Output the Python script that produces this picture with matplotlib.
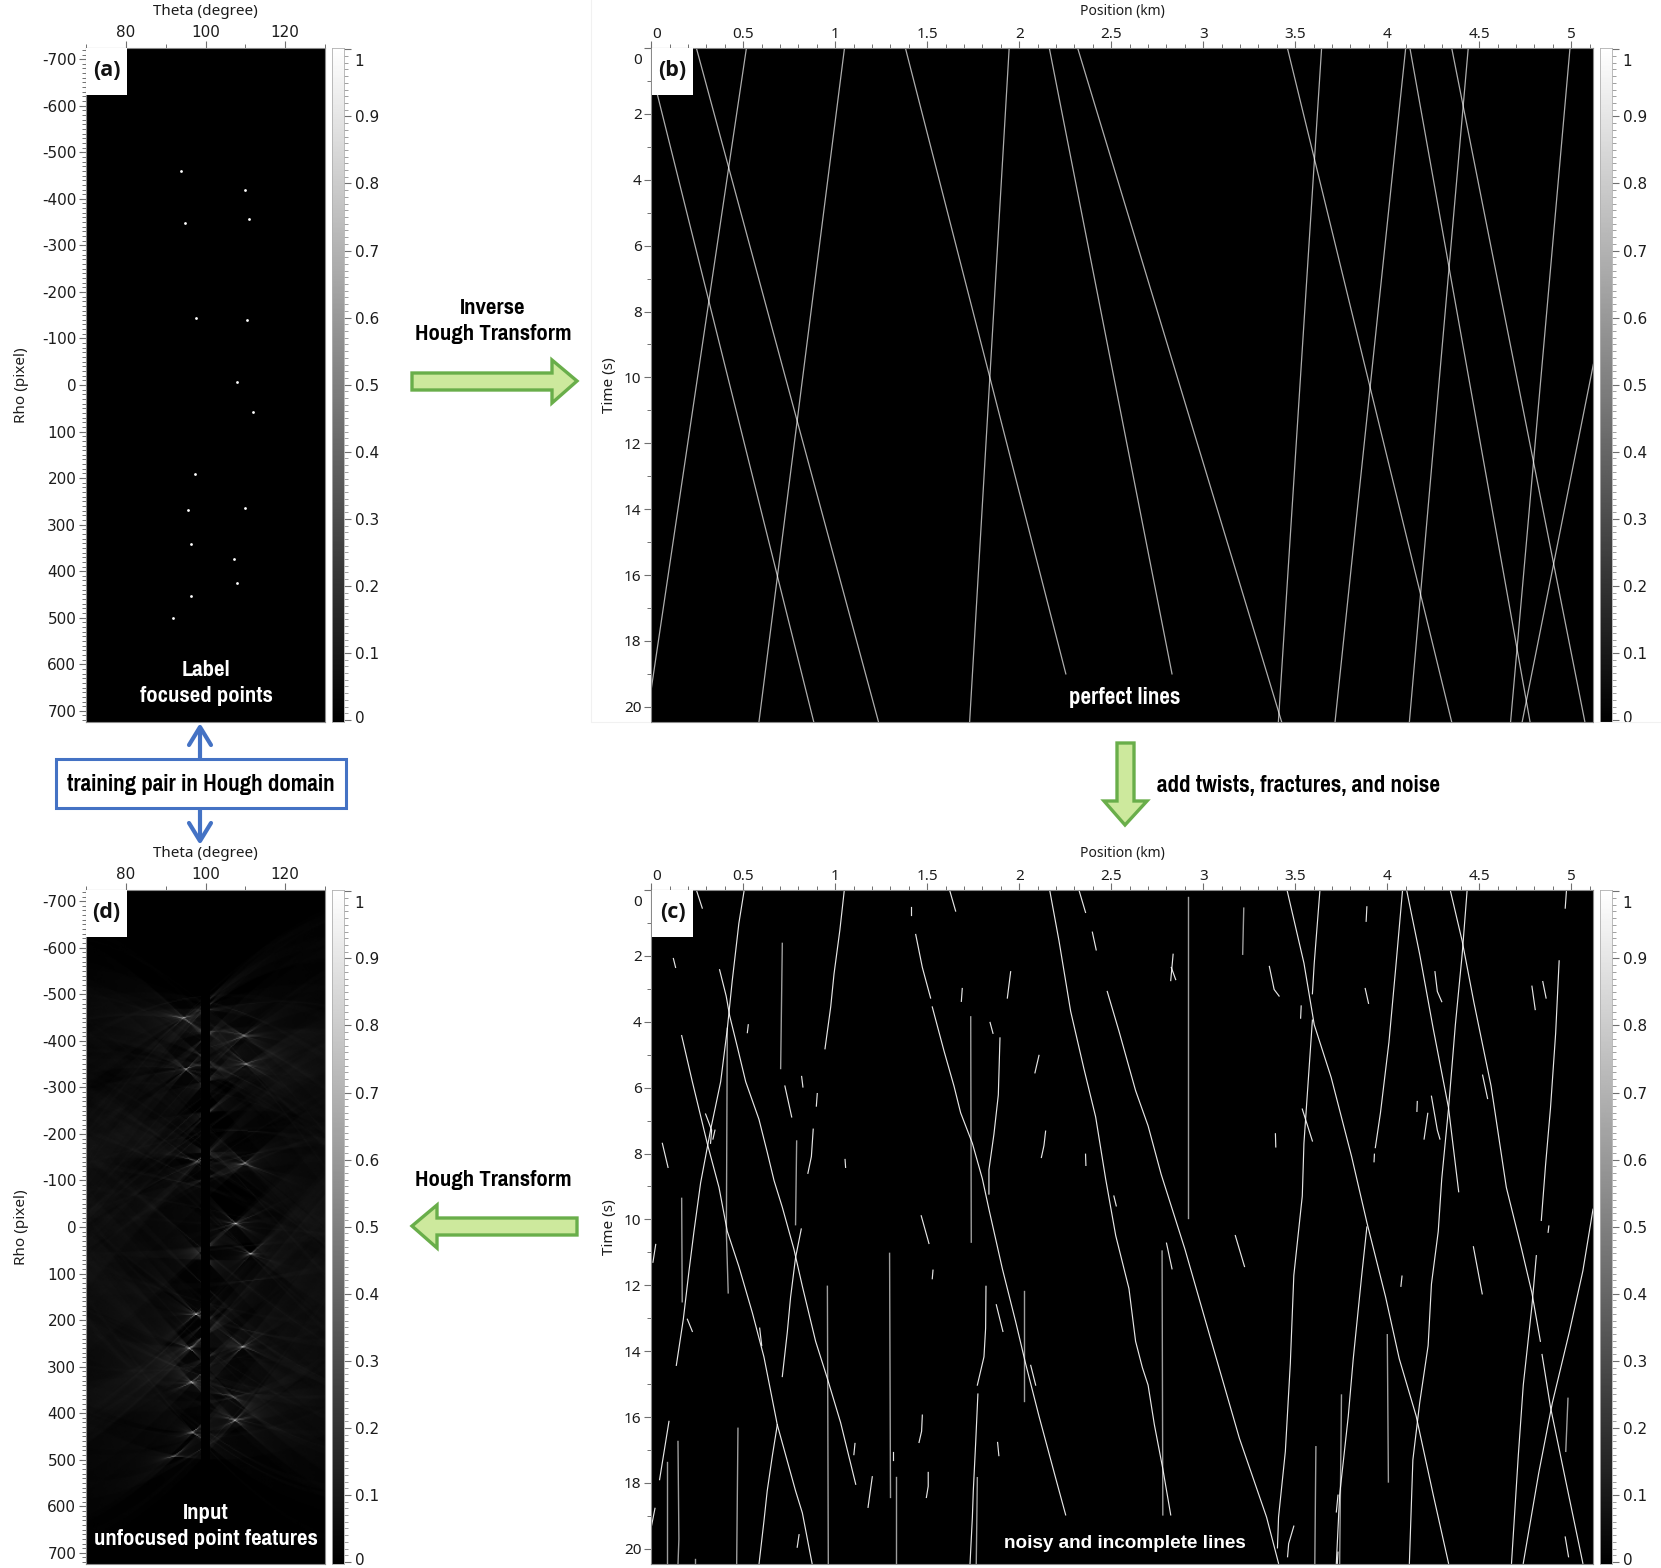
import numpy as np
import matplotlib
matplotlib.use("Agg")
import matplotlib.pyplot as plt
import matplotlib.font_manager as fm
from matplotlib.patches import Polygon, Rectangle
from matplotlib.ticker import MultipleLocator
from matplotlib.transforms import ScaledTranslation

W, H = 1661, 1568

# (a) focused points in the Hough domain
point_theta = [93.8, 110.0, 111.0, 94.8, 97.6, 110.3, 108.0, 111.9, 97.3, 95.7, 109.8, 96.3, 107.2, 108.0, 96.3, 91.8]
point_rho = [-460, -420, -357, -347, -144, -139, -7, 59, 191, 269, 264, 342, 374, 426, 453, 501]

# (b) perfect lines: position (km) and time (s) at both ends
b_km_start = [-0.03, 0.245, 0.517, 1.05, 1.381, 1.945, 2.163, 2.317, 3.643, 3.457, 4.10, 4.123, 4.35, 4.44, 4.993, 5.12]
b_km_end = [0.883, 1.235, 0.0, 0.585, 2.253, 1.73, 2.83, 3.426, 3.408, 4.35, 3.716, 4.776, 5.074, 4.12, 4.67, 4.733]
b_t_start = [0, 0, 0, 0, 0, 0, 0, 0, 0, 0, 0, 0, 0, 0, 0, 9.6]
b_t_end = [20.46, 20.46, 19.45, 20.46, 19, 20.46, 19, 20.46, 20.46, 20.46, 20.46, 20.46, 20.46, 20.46, 20.46, 20.46]

# (c) twisted and broken lines, each one (km list, time list)
c_lines = [
    ([.505, .476, .44, .413, .377, .322, .268, .232, .205, .174, .136], [0, 1.01, 2.75, 4.22, 5.82, 7.29, 8.89, 10.36, 11.56, 13.03, 14.43]),
    ([.371, .407, .426, .467, .513, .585, .63, .667, .712, .775, .821, .893, .957, 1.029, 1.111], [2.42, 3.22, 3.82, 4.75, 5.82, 6.96, 7.96, 8.82, 9.63, 10.9, 12.03, 13.7, 14.83, 16.17, 18.04]),
    ([.165, .223, .304, .368, .413, .476, .549, .612, .685, .784, .821, .875], [4.42, 5.82, 7.69, 9.03, 10.36, 11.43, 12.83, 14.17, 16.24, 18.24, 18.91, 20.48]),
    ([1.049, 1.025, .993, .975, .944], [0, 1.21, 2.55, 3.55, 4.82]),
    ([.815, .784, .757, .739, .712], [10.29, 11.16, 12.36, 13.43, 14.77]),
    ([.685, .658, .63, .612, .585], [16.23, 17.17, 18.24, 19.17, 20.48]),
    ([1.819, 1.817, 1.808, 1.772], [12.03, 13.3, 14.17, 15.03]),
    ([1.775, 1.763, 1.75, 1.745, 1.732], [15.3, 16.77, 18.24, 19.04, 20.48]),
    ([1.895, 1.886, 1.862, 1.835, 1.835], [4.49, 6.22, 7.42, 8.49, 9.23]),
    ([1.437, 1.473, 1.518], [1.35, 2.35, 3.28]),
    ([1.527, 1.591, 1.645, 1.681, 1.745, 1.799, 1.835, 1.908, 1.98, 2.034, 2.107, 2.197, 2.252], [3.55, 4.89, 5.95, 6.76, 7.69, 8.76, 9.69, 11.5, 13.1, 14.37, 15.97, 17.84, 18.97]),
    ([2.165, 2.216, 2.279, 2.351, 2.415, 2.469, 2.524, 2.596, 2.632, 2.669, 2.70, 2.734, 2.78, 2.823], [0, 1.55, 3.68, 5.42, 6.89, 8.76, 10.49, 12.1, 13.7, 14.5, 15.03, 16.23, 17.57, 18.97]),
    ([2.324, 2.36], [0, .68]),
    ([2.478, 2.542, 2.632, 2.70, 2.771, 2.9, 3.03, 3.196, 3.344, 3.409], [3.08, 4.29, 6.09, 7.16, 8.63, 10.9, 13.43, 16.64, 19.04, 20.44]),
    ([3.634, 3.603, 3.593], [0, 2.22, 3.15]),
    ([3.593, 3.547, 3.538, 3.492, 3.473, 3.446, 3.409, 3.403], [3.95, 7.69, 9.29, 11.7, 14.37, 17.04, 19.04, 19.97]),
    ([3.455, 3.547, 3.603, 3.695, 3.806, 3.889, 3.991, 4.065, 4.157, 4.25, 4.333], [0, 2.22, 4.09, 5.69, 8.09, 10.09, 12.36, 14.23, 15.97, 18.37, 20.44]),
    ([4.083, 4.046, 4.009, 3.963, 3.935], [0, 2.35, 4.62, 6.76, 7.82]),
    ([3.889, 3.861, 3.815, 3.788, 3.741, 3.723], [10.23, 11.7, 14.23, 15.97, 18.37, 20.44]),
    ([4.105, 4.176, 4.25, 4.333, 4.388], [0, 1.95, 4.22, 6.62, 9.16]),
    ([4.342, 4.407, 4.471, 4.564, 4.647, 4.73, 4.786, 4.832], [0, 1.55, 3.42, 5.95, 9.03, 10.9, 12.23, 13.7]),
    ([4.841, 4.887, 4.971, 5.063], [14.1, 15.7, 17.97, 20.44]),
    ([4.434, 4.407, 4.37, 4.333, 4.296, 4.277, 4.24, 4.222, 4.176, 4.139, 4.12], [0, 1.95, 4.09, 6.62, 8.76, 10.36, 11.96, 13.83, 15.57, 17.3, 20.44]),
    ([4.974, 4.967], [0, .55]),
    ([4.934, 4.915, 4.887, 4.86, 4.837], [2.15, 4.35, 6.62, 8.36, 10.03]),
    ([4.81, 4.786, 4.739, 4.712, 4.675], [11.1, 12.63, 15.03, 17.17, 20.44]),
    ([5.118, 5.063, 4.989, 4.897, 4.823, 4.739], [9.69, 11.56, 13.43, 15.57, 17.7, 20.44]),
]

# (c) nearly vertical noise lines, drawn a bit dimmer
c_verticals = [
    ([.712, .703], [1.62, 5.42]),
    ([.413, .408, .418], [4.2, 10.4, 12.23]),
    ([.165, .168], [9.36, 12.5]),
    ([.79, .784], [7.62, 10.16]),
    ([1.295, 1.3], [11.03, 18.44]),
    ([.957, .962], [12.03, 20.48]),
    ([1.736, 1.739], [3.85, 10.69]),
    ([2.025, 2.025], [12.16, 15.5]),
    ([.471, .464], [16.34, 20.48]),
    ([.145, .15, .145], [16.74, 19.7, 20.48]),
    ([.087, .087], [17.37, 20.48]),
    ([1.332, 1.332], [17.81, 20.48]),
    ([1.772, 1.766], [17.84, 20.48]),
    ([.236, .236], [20.3, 20.48]),
    ([2.919, 2.919], [.21, 9.96]),
    ([3.22, 3.214], [.55, 1.95]),
    ([2.776, 2.78], [10.96, 18.97]),
    ([3.612, 3.606], [16.9, 20.48]),
    ([3.751, 3.741], [15.33, 20.48]),
    ([4.0, 4.006], [13.5, 17.97]),
    ([4.982, 4.97], [15.43, 17.04]),
]

# (c) short fragments
c_fragments = [
    ([.245, .277], [0, .55]), ([.12, .132], [2.08, 2.35]), ([.06, .091], [7.69, 8.42]),
    ([.024, .009], [10.76, 11.3]), ([.096, .045], [16.13, 17.9]), ([.02, .002], [18.77, 19.28]),
    ([.295, .328, .322], [6.8, 7.29, 7.69]), ([.346, .335], [7.29, 7.56]), ([.196, .223], [13.03, 13.4]),
    ([.527, .522], [4.09, 4.33]), ([.817, .824], [5.66, 5.98]), ([.726, .763], [5.95, 6.89]),
    ([.902, .897], [6.18, 6.56]), ([.88, .87, .851], [7.26, 8.09, 8.6]), ([1.053, 1.056], [8.18, 8.42]),
    ([.589, .6], [13.3, 13.83]), ([1.107, 1.101], [16.8, 17.14]), ([1.201, 1.178], [17.81, 18.74]),
    ([.803, .793], [19.57, 19.95]), ([1.315, 1.315], [17.06, 17.3]), ([1.409, 1.409], [.51, .75]),
    ([1.621, 1.654], [0, .64]), ([1.953, 1.935], [2.48, 3.28]), ([1.69, 1.685], [2.99, 3.38]),
    ([1.841, 1.857], [4.02, 4.35]), ([2.107, 2.085], [5.02, 5.55]), ([2.143, 2.134, 2.12], [7.32, 7.76, 8.12]),
    ([2.36, 2.362], [8.02, 8.36]), ([2.514, 2.527], [9.29, 9.59]), ([1.467, 1.509], [9.89, 10.73]),
    ([1.531, 1.527], [11.54, 11.8]), ([1.875, 1.911], [12.59, 13.4]), ([2.062, 2.089], [14.43, 15.03]),
    ([1.473, 1.469, 1.455], [15.94, 16.43, 16.77]), ([1.505, 1.505, 1.495], [17.68, 18.1, 18.44]),
    ([1.882, 1.889], [16.77, 17.17]), ([2.397, 2.418], [1.28, 1.82]),
    ([2.836, 2.823], [1.95, 2.75]), ([2.826, 2.85], [2.35, 2.72]), ([3.359, 3.385, 3.412], [2.32, 3.02, 3.22]),
    ([3.532, 3.529], [3.52, 3.89]), ([3.889, 3.885], [.51, .95]), ([3.88, 3.898], [2.99, 3.44]),
    ([4.259, 4.272, 4.296], [2.48, 3.08, 3.39]), ([4.786, 4.804], [2.92, 3.63]), ([4.845, 4.863], [2.78, 3.28]),
    ([4.163, 4.161], [6.42, 6.72]), ([4.24, 4.272, 4.286], [6.26, 7.29, 7.56]), ([4.22, 4.2], [6.78, 7.56]),
    ([4.518, 4.545], [5.62, 6.33]), ([3.538, 3.593], [6.65, 7.62]), ([3.392, 3.394], [7.4, 7.8]),
    ([3.93, 3.928], [8.02, 8.25]), ([4.878, 4.874], [10.2, 10.39]), ([3.174, 3.224], [10.49, 11.43]),
    ([2.8, 2.83], [10.72, 11.5]), ([4.468, 4.516], [10.83, 12.26]), ([4.08, 4.074], [11.72, 12.03]),
    ([3.492, 3.464, 3.458], [19.31, 19.84, 20.24]), ([3.732, 3.723], [18.37, 18.88]),
    ([4.967, 4.985], [19.64, 20.24]), ([3.732, 3.728], [20.1, 20.48]),
]

cbar_ticks = [0, .1, .2, .3, .4, .5, .6, .7, .8, .9, 1]
cbar_labels = ["0", "0.1", "0.2", "0.3", "0.4", "0.5", "0.6", "0.7", "0.8", "0.9", "1"]
rho_ticks = [-700, -600, -500, -400, -300, -200, -100, 0, 100, 200, 300, 400, 500, 600, 700]
theta_ticks = [80, 100, 120]
pos_ticks = [0, .5, 1, 1.5, 2, 2.5, 3, 3.5, 4, 4.5, 5]
pos_labels = ["0", "0.5", "1", "1.5", "2", "2.5", "3", "3.5", "4", "4.5", "5"]
time_ticks = [0, 2, 4, 6, 8, 10, 12, 14, 16, 18, 20]

plt.rcParams["axes.unicode_minus"] = False
GREY = "#707070"
TXT = "#1c1c1c"

# narrow bold face for the captions, sizes are fitted to the widths further down
bold_names = {f.name for f in fm.fontManager.ttflist if f.weight in (700, "bold")}
NARROW = "Liberation Sans"
for name in ["Pragati Narrow", "Archivo Narrow", "PT Sans Narrow", "Roboto Condensed"]:
    if name in bold_names:
        NARROW = name
        break

fig = plt.figure(figsize=(W / 100, H / 100), dpi=100)


def add_ax(x0, y0, x1, y1):
    return fig.add_axes([x0 / W, 1 - y1 / H, (x1 - x0) / W, (y1 - y0) / H])


def nudge(label, dx, dy):
    label.set_transform(label.get_transform() + ScaledTranslation(dx / 100, -dy / 100, fig.dpi_scale_trans))


def style(ax, font):
    ax.set_facecolor("black")
    ax.xaxis.set_ticks_position("top")
    ax.xaxis.set_label_position("top")
    for s in ax.spines.values():
        s.set_color("#8a8a8a")
        s.set_linewidth(0.8)
    ax.tick_params(which="major", length=5, width=0.8, color=GREY, labelsize=11,
                   labelcolor=TXT, pad=2, labelfontfamily=font)
    ax.tick_params(which="minor", length=3, width=0.7, color=GREY)


def hough_axes(y0, y1):
    ax = add_ax(86, y0, 325, y1)
    style(ax, "DejaVu Sans")
    ax.set_xlim(70, 130)
    ax.set_ylim(724, -724)
    ax.set_xticks(theta_ticks)
    ax.xaxis.set_minor_locator(MultipleLocator(10))
    ax.set_yticks(rho_ticks)
    ax.set_yticklabels([str(v) for v in rho_ticks])
    ax.yaxis.set_minor_locator(MultipleLocator(10))
    ax.tick_params(axis="x", pad=0.5)
    ax.set_xlabel("Theta (degree)", fontsize=11, family="Noto Sans", color=TXT, labelpad=7.3)
    ax.set_ylabel("Rho (pixel)", fontsize=11, family="Noto Sans", color=TXT, labelpad=9.5)
    return ax


def section_axes(y0, y1):
    ax = add_ax(651.3, y0, 1593, y1)
    style(ax, "Noto Sans")
    ax.set_xlim(0, 5.118)
    ax.set_ylim(20.46, 0)
    ax.set_xticks(pos_ticks)
    ax.set_xticklabels(pos_labels)
    ax.xaxis.set_minor_locator(MultipleLocator(0.1))
    ax.set_yticks(time_ticks)
    ax.yaxis.set_minor_locator(MultipleLocator(1))
    ax.tick_params(axis="x", pad=-0.5)
    ax.set_xlabel("Position (km)", fontsize=10, family="Noto Sans", color=TXT, labelpad=8.3)
    ax.set_ylabel("Time (s)", fontsize=11, family="Noto Sans", color=TXT, labelpad=5)
    # first labels sit a little inside the axis corner
    nudge(ax.get_xticklabels()[0], 5, 0)
    nudge(ax.get_yticklabels()[0], 0, 11)
    return ax


def colorbar(x0, y0, y1):
    cax = add_ax(x0, y0, x0 + 11.5, y1)
    lo = -0.003
    hi = 1.002
    cax.imshow(np.linspace(hi, lo, 400)[:, None], cmap="gray", vmin=0, vmax=1, aspect="auto",
               extent=[0, 1, lo, hi], interpolation="bilinear")
    cax.set_xticks([])
    cax.yaxis.set_ticks_position("right")
    cax.set_yticks(cbar_ticks)
    cax.set_yticklabels(cbar_labels)
    cax.yaxis.set_minor_locator(MultipleLocator(0.01))
    cax.tick_params(which="major", length=5, width=0.8, color=GREY, labelsize=11,
                    labelcolor=TXT, pad=3, labelfontfamily="DejaVu Sans")
    cax.tick_params(which="minor", length=3, width=0.6, color="#909090")
    for s in cax.spines.values():
        s.set_color("#b0b0b0")
        s.set_linewidth(0.6)
    nudge(cax.get_yticklabels()[-1], 0, 11)
    nudge(cax.get_yticklabels()[0], 0, -3)


def panel_tag(x0, y0, w, h, tag):
    ov.add_patch(Rectangle((x0, y0), w, h, facecolor="white", edgecolor="none", zorder=3))
    ov.text(x0 + w / 2, y0 + h / 2 - 1, tag, ha="center", va="center", fontsize=15.5,
            family="Open Sans", weight="bold", color="#111111", zorder=4)


def caption(x, y, s, width, color, family=None, ha="center"):
    # text size fitted to the width the caption has in the figure
    t = ov.text(x, y, s, ha=ha, va="center", color=color, fontsize=16, family=family or NARROW,
                weight="bold", linespacing=1.42, zorder=5)
    bb = t.get_window_extent(fig.canvas.get_renderer())
    t.set_fontsize(16 * width / bb.width)
    return t


def hough_image(lines, theta, rho_edges):
    # real Hough transform of the read line pieces; pixel scale of the section about 195 x 52 per km, s
    img = np.zeros((len(rho_edges) - 1, len(theta)))
    xs, ys = [], []
    for km, t in lines:
        km = np.asarray(km)
        t = np.asarray(t)
        x = 195 * (km - 2.56)
        y = 52 * (t - 10.2)
        for i in range(len(x) - 1):
            n = int(max(abs(x[i + 1] - x[i]), abs(y[i + 1] - y[i]))) + 2
            xs.append(np.linspace(x[i], x[i + 1], n))
            ys.append(np.linspace(y[i], y[i + 1], n))
    xs = np.concatenate(xs)
    ys = np.concatenate(ys)
    for j, th in enumerate(theta):
        phi = np.radians(th - 100.05)
        r = xs * np.cos(phi) - ys * np.sin(phi)
        img[:, j], _ = np.histogram(r, bins=rho_edges)
    return img


# panel (a)
ax_a = hough_axes(48, 722)
ax_a.plot(point_theta, point_rho, ls="none", marker="o", ms=2.0, mfc="white", mec="none")
colorbar(332, 48, 722)

# panel (b)
ax_b = section_axes(48, 722)
for k in range(len(b_km_start)):
    ax_b.plot([b_km_start[k], b_km_end[k]], [b_t_start[k], b_t_end[k]], color="white", lw=0.9, alpha=0.68)
colorbar(1600, 48, 722)

# panel (c)
ax_c = section_axes(890, 1564)
for km, t in c_lines + c_fragments:
    ax_c.plot(km, t, color="white", lw=0.85, alpha=0.9)
for km, t in c_verticals:
    ax_c.plot(km, t, color="white", lw=1.0, alpha=0.62)
colorbar(1600, 890, 1564)

# panel (d)
ax_d = hough_axes(890, 1564)
theta_grid = np.arange(70, 130.01, 0.25)
rho_edges = np.arange(-724, 724.5, 2.5)
rho_mid = (rho_edges[:-1] + rho_edges[1:]) / 2
hough = hough_image(c_lines + c_fragments + c_verticals, theta_grid, rho_edges)
band = (np.abs(theta_grid - 100.05) < 1.15)[None, :] & (np.abs(rho_mid) < 515)[:, None]
hough[band] = 0
hough = hough / hough.max()
ax_d.imshow(hough, cmap="gray", vmin=0, vmax=1.05, aspect="auto", interpolation="bilinear",
            extent=[70, 130, 724, -724])
colorbar(332, 890, 1564)

# overlay in pixel units for tags, captions and arrows
ov = fig.add_axes([0, 0, 1, 1], zorder=10)
ov.set_xlim(0, W)
ov.set_ylim(H, 0)
ov.axis("off")

# faint frame left over around the right hand panel
ov.plot([591, 591, 650], [0, 722, 722], color="#f1f1f1", lw=0.8)
ov.plot([1594, 1661], [722, 722], color="#f1f1f1", lw=0.8)

panel_tag(86, 48, 41, 47, "(a)")
panel_tag(652, 48, 41, 47, "(b)")
panel_tag(652, 890, 41, 47, "(c)")
panel_tag(86, 890, 41, 47, "(d)")

caption(206, 683, "Label\nfocused points", 133, "white")
caption(206, 1526, "Input\nunfocused point features", 224, "white")
caption(1125, 697, "perfect lines", 111, "white")
caption(1125, 1543, "noisy and incomplete lines", 241, "white", family="Liberation Sans")
caption(493, 321, "Inverse\nHough Transform", 157, "black")
caption(493, 1180, "Hough Transform", 157, "black")
caption(1157, 785, "add twists, fractures, and noise", 283, "black", ha="left")

# green arrows
GFILL = "#CDE99D"
GEDGE = "#69AE4A"
ov.add_patch(Polygon([(412, 373), (552, 373), (552, 360), (577, 381), (552, 403), (552, 390), (412, 390)],
                     facecolor=GFILL, edgecolor=GEDGE, lw=2.4))
ov.add_patch(Polygon([(577, 1218), (437, 1218), (437, 1205), (412, 1226), (437, 1248), (437, 1235), (577, 1235)],
                     facecolor=GFILL, edgecolor=GEDGE, lw=2.4))
ov.add_patch(Polygon([(1117, 743), (1134, 743), (1134, 801), (1147, 801), (1125, 825), (1104, 801), (1117, 801)],
                     facecolor=GFILL, edgecolor=GEDGE, lw=2.4))

# blue box with arrows
BLUE = "#4472C4"
ov.add_patch(Rectangle((56, 759), 290, 49, facecolor="white", edgecolor=BLUE, lw=2.2))
caption(201, 784, "training pair in Hough domain", 269, "black")
ov.plot([200, 200], [759, 728], color=BLUE, lw=3, solid_capstyle="butt")
ov.plot([189, 200, 211], [745, 727, 745], color=BLUE, lw=3, solid_capstyle="round")
ov.plot([200, 200], [808, 840], color=BLUE, lw=3, solid_capstyle="butt")
ov.plot([189, 200, 211], [823, 841, 823], color=BLUE, lw=3, solid_capstyle="round")

fig.savefig("out.png", dpi=100)
